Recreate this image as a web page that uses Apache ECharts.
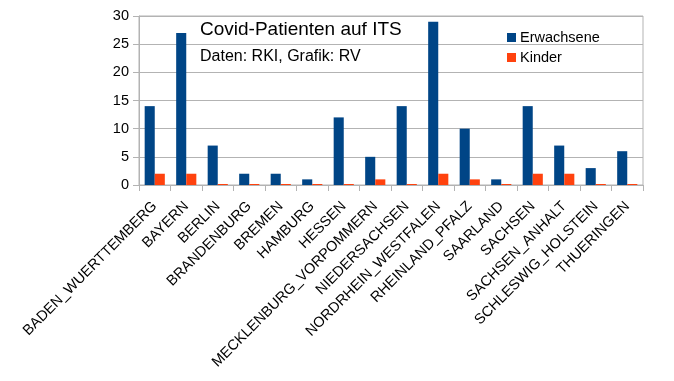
<!DOCTYPE html>
<html>
<head>
<meta charset="utf-8">
<script src="https://cdn.jsdelivr.net/npm/echarts@6/dist/echarts.min.js"></script>
<style>html,body{margin:0;padding:0;background:#fff}#c{width:674px;height:381px}</style>
</head>
<body>
<div id="c"></div>
<script>
const categories = ["BADEN_WUERTTEMBERG","BAYERN","BERLIN","BRANDENBURG","BREMEN","HAMBURG","HESSEN","MECKLENBURG_VORPOMMERN","NIEDERSACHSEN","NORDRHEIN_WESTFALEN","RHEINLAND_PFALZ","SAARLAND","SACHSEN","SACHSEN_ANHALT","SCHLESWIG_HOLSTEIN","THUERINGEN"];
const erwachsene = [14,27,7,2,2,1,12,5,14,29,10,1,14,7,3,6];
const kinder = [2,2,0,0,0,0,0,1,0,2,1,0,2,2,0,0];
const yTicks = [0,5,10,15,20,25,30];

const FONT = '"Liberation Sans", Arial, sans-serif';
const chart = echarts.init(document.getElementById('c'), null, {renderer: 'canvas'});
chart.setOption({
  animation: false,
  textStyle: {fontFamily: FONT},
  title: [
    {text: 'Covid-Patienten auf ITS', left: 200, top: 20, padding: 0,
     textStyle: {fontFamily: FONT, fontSize: 19, fontWeight: 'normal', color: '#000'}},
    {text: 'Daten: RKI, Grafik: RV', left: 200, top: 49, padding: 0,
     textStyle: {fontFamily: FONT, fontSize: 16, fontWeight: 'normal', color: '#000'}}
  ],
  legend: {
    orient: 'vertical', left: 507, top: 30, padding: 0,
    itemWidth: 9, itemHeight: 9, itemGap: 5,
    icon: 'rect',
    textStyle: {fontFamily: FONT, fontSize: 14.5, color: '#000', padding: [0, 0, 0, -1]},
    data: ['Erwachsene', 'Kinder']
  },
  grid: {left: 139, right: 31, top: 16, bottom: 196, show: true, borderColor: '#b3b3b3', borderWidth: 1, containLabel: false},
  xAxis: {
    type: 'category', data: categories,
    axisLine: {lineStyle: {color: '#b3b3b3'}},
    axisTick: {show: true, length: 6, lineStyle: {color: '#b3b3b3'}},
    axisLabel: {interval: 0, rotate: 45, margin: 19, fontFamily: FONT, fontSize: 14.5, color: '#000'}
  },
  yAxis: {
    type: 'value', min: yTicks[0], max: yTicks[yTicks.length - 1], interval: 5,
    axisLine: {show: true, lineStyle: {color: '#b3b3b3'}},
    axisTick: {show: true, length: 6, lineStyle: {color: '#b3b3b3'}},
    splitLine: {lineStyle: {color: '#b3b3b3'}},
    axisLabel: {margin: 10, fontFamily: FONT, fontSize: 14.5, color: '#000'}
  },
  series: [
    {name: 'Erwachsene', type: 'bar', data: erwachsene, barGap: '0%', barCategoryGap: '36%',
     itemStyle: {color: '#004586'}},
    {name: 'Kinder', type: 'bar', data: kinder, barMinHeight: 1,
     itemStyle: {color: '#ff420e'}}
  ]
});
</script>
</body>
</html>
